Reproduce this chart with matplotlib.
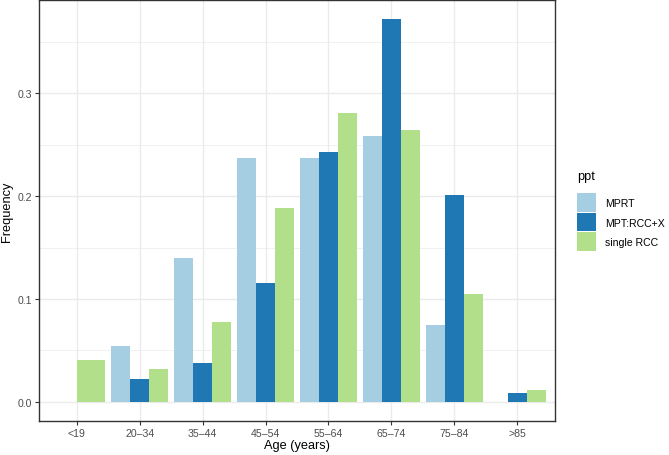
import numpy as np
import matplotlib
matplotlib.use("Agg")
import matplotlib.pyplot as plt
from matplotlib.patches import Rectangle

plt.rcParams['font.family'] = ['Liberation Sans', 'DejaVu Sans']

# data (nan = group absent in that age class)
age_groups = ['<19', '20\u201334', '35\u201344', '45\u201354', '55\u201364', '65\u201374', '75\u201384', '>85']
mprt = [np.nan, 0.054, 0.140, 0.237, 0.237, 0.258, 0.075, 0.0]
mpt_rcc_x = [0.0, 0.022, 0.0375, 0.116, 0.243, 0.372, 0.2015, 0.0087]
single_rcc = [0.041, 0.0324, 0.0777, 0.188, 0.281, 0.264, 0.105, 0.0115]
series_names = ['MPRT', 'MPT:RCC+X', 'single RCC']
series_colors = ['#a6cee3', '#1f78b4', '#b2df8a']
y_ticks = [0.0, 0.1, 0.2, 0.3]

W, H = 669, 456
fig = plt.figure(figsize=(W / 100, H / 100), dpi=100)
ax = fig.add_axes([39 / W, 34 / H, (555 - 39) / W, (455 - 34) / H])

grid_col = '#ebebeb'
series = [mprt, mpt_rcc_x, single_rcc]
x = np.arange(1, len(age_groups) + 1)

# dodge like ggplot: total width 0.9 split among groups present
for i, xi in enumerate(x):
    present = [k for k in range(3) if not np.isnan(series[k][i])]
    n = len(present)
    w = 0.9 / n
    for j, k in enumerate(present):
        ax.bar(xi - 0.45 + w * (j + 0.5), series[k][i], width=w,
               color=series_colors[k], zorder=3, linewidth=0)

ax.set_xlim(0.4, len(age_groups) + 0.6)
ymax = np.nanmax([np.nanmax(s) for s in series])
ax.set_ylim(-0.05 * ymax, ymax * 1.05)

ax.set_xticks(x)
ax.set_xticklabels(age_groups)
ax.set_yticks(y_ticks)
ax.set_yticklabels(['%.1f' % t for t in y_ticks])
ax.set_yticks([0.05, 0.15, 0.25, 0.35], minor=True)

ax.grid(True, which='major', color=grid_col, lw=1.0, zorder=0)
ax.grid(True, which='minor', axis='y', color=grid_col, lw=0.5, zorder=0)
ax.tick_params(axis='both', which='major', length=3, width=0.8, color='#333333',
               labelcolor='#4d4d4d', labelsize=7.6, pad=2)
ax.tick_params(axis='both', which='minor', length=0)
for sp in ax.spines.values():
    sp.set_color('#333333')
    sp.set_linewidth(1.0)
    sp.set_zorder(5)

ax.set_xlabel('Age (years)', fontsize=9.2, color='black', labelpad=1)
ax.set_ylabel('Frequency', fontsize=9.2, color='black', labelpad=3)

# legend drawn in figure pixels
fig.text(577 / W, 1 - 177 / H, 'ppt', fontsize=9.2, va='center', ha='left')
key_top = 194
key_h = 19.7
for k, name in enumerate(series_names):
    y0 = key_top + k * key_h
    fig.patches.append(Rectangle((577 / W, 1 - (y0 + key_h - 1) / H), 19 / W, (key_h - 1) / H,
                                 transform=fig.transFigure, facecolor=series_colors[k],
                                 edgecolor='none'))
    fig.text(605 / W, 1 - (y0 + key_h / 2) / H, name, fontsize=7.6, va='center', ha='left')

fig.savefig('out.png', dpi=100)
